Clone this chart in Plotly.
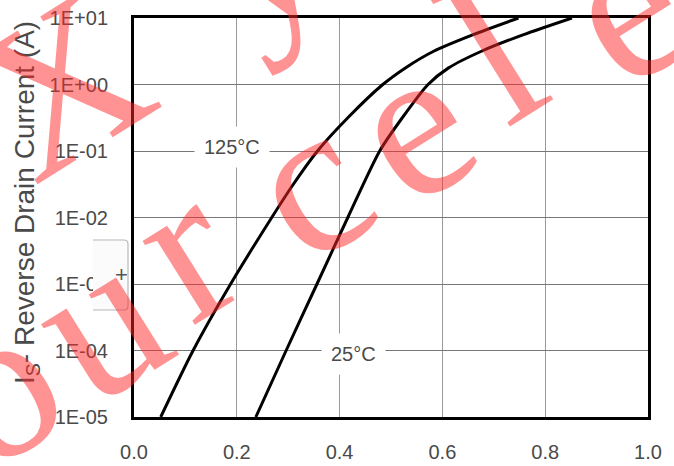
import plotly.graph_objects as go

# ---- data ----
v_125 = [0.052, 0.115, 0.188, 0.268, 0.310, 0.357, 0.416, 0.484, 0.528, 0.583, 0.660, 0.748]
log_i_125 = [-5, -4, -3, -2, -1.5, -1, -0.5, 0, 0.25, 0.5, 0.75, 1]
v_25 = [0.237, 0.296, 0.356, 0.416, 0.478, 0.522, 0.572, 0.612, 0.676, 0.758, 0.852]
log_i_25 = [-5, -4, -3, -2, -1, -0.5, 0, 0.25, 0.5, 0.75, 1]

i_125 = [10 ** v for v in log_i_125]
i_25 = [10 ** v for v in log_i_25]

x_tick_vals = [0.0, 0.2, 0.4, 0.6, 0.8, 1.0]
x_tick_text = ["0.0", "0.2", "0.4", "0.6", "0.8", "1.0"]
y_tick_vals = [1e-5, 1e-4, 1e-3, 1e-2, 1e-1, 1e0, 1e1]
y_tick_text = ["1E-05", "1E-04", "1E-03", "1E-02", "1E-01", "1E+00", "1E+01"]

curve_labels = ["125°C", "25°C"]
y_title = "I<sub>S</sub>- Reverse Drain Current (A)"

# watermark letters (char, pixel centre x, pixel centre y)
wm_letters = [("o", 4, 400), ("u", 108, 335), ("r", 193, 262), ("c", 317, 198),
              ("e", 420, 140), ("l", 503, 67), ("e", 634, 22), ("X", 70, 100), ("y", 262, -34)]

W, H = 674, 466
L, R, T, B = 134, 648, 18, 417


def px(x):
    return (x - L) / (R - L)


def py(y):
    return (B - y) / (B - T)


FONT = "Liberation Sans, Arial, sans-serif"
TXT = "#4a4a4a"

fig = go.Figure()
for vx, iy in ((v_125, i_125), (v_25, i_25)):
    fig.add_trace(go.Scatter(x=vx, y=iy, mode="lines",
                             line=dict(color="black", width=3, shape="spline", smoothing=0.7),
                             showlegend=False, hoverinfo="skip"))

fig.update_layout(
    width=W, height=H,
    margin=dict(l=L, r=W - R, t=T, b=H - B, pad=0, autoexpand=False),
    paper_bgcolor="white", plot_bgcolor="white",
    font=dict(family=FONT, size=20, color=TXT),
    xaxis=dict(range=[0, 1], tickvals=x_tick_vals, ticktext=x_tick_text, automargin=False,
               showgrid=True, gridcolor="#9a9a9a", gridwidth=1,
               showline=True, linecolor="black", linewidth=3, mirror=True,
               ticks="", ticklabelstandoff=15, zeroline=False,
               tickfont=dict(size=20, color=TXT)),
    yaxis=dict(type="log", range=[-5, 1], tickvals=y_tick_vals, ticktext=y_tick_text, automargin=False,
               showgrid=True, gridcolor="#777777", gridwidth=1,
               showline=True, linecolor="black", linewidth=3, mirror=True,
               ticks="", ticklabelstandoff=19, zeroline=False,
               tickfont=dict(size=20, color=TXT)),
)

# curve labels with white backgrounds that break the grid
fig.add_annotation(x=0.19, y=-0.94, xref="x", yref="y", text=curve_labels[0], showarrow=False,
                   font=dict(size=20, color=TXT, family=FONT), bgcolor="white", borderpad=9)
fig.add_annotation(x=0.428, y=-4.05, xref="x", yref="y", text=curve_labels[1], showarrow=False,
                   font=dict(size=20, color=TXT, family=FONT), bgcolor="white", borderpad=9)

# y-axis title
fig.add_annotation(x=px(26), y=py(203), xref="paper", yref="paper", text=y_title,
                   textangle=-90, showarrow=False, xanchor="center", yanchor="middle",
                   font=dict(size=28, color=TXT, family=FONT))

# small overlay box near the 1E-03 label
fig.add_shape(type="rect", xref="paper", yref="paper",
              x0=px(93), x1=px(128), y0=py(310), y1=py(240),
              fillcolor="#fbfbfb", line=dict(width=0), layer="above")
fig.add_shape(type="path", xref="paper", yref="paper",
              path=(f"M {px(93)},{py(240)} L {px(124)},{py(240)} Q {px(128)},{py(240)} {px(128)},{py(244)} "
                    f"L {px(128)},{py(306)} Q {px(128)},{py(310)} {px(124)},{py(310)} L {px(93)},{py(310)}"),
              line=dict(color="#b8b8b8", width=1.2), layer="above")
fig.add_annotation(x=px(113), y=py(274), xref="paper", yref="paper", text="+", showarrow=False,
                   font=dict(size=22, color="#555555", family=FONT))

# red watermark
for ch, cx, cy in wm_letters:
    fig.add_annotation(x=px(cx - 10), y=py(cy - 16), xref="paper", yref="paper", text=ch,
                       showarrow=False, textangle=-32, xanchor="center", yanchor="middle",
                       font=dict(size=215, color="rgba(255,40,40,0.5)", family="Liberation Serif, serif"))

fig.write_html("out.html")
